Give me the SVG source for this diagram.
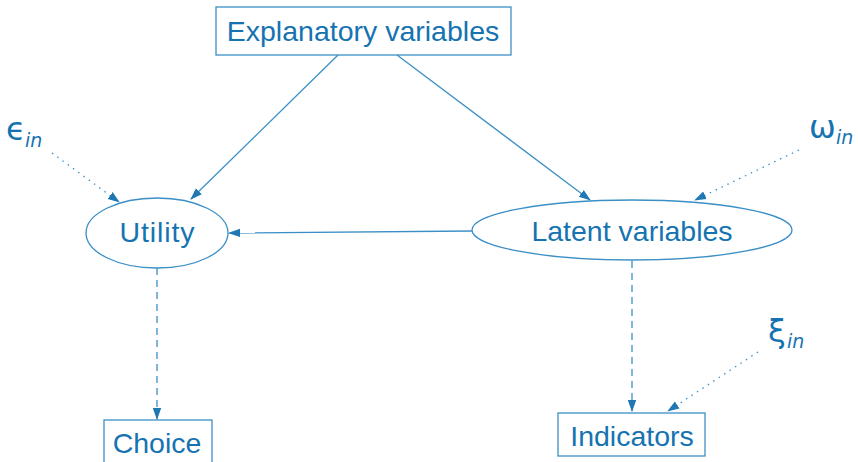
<svg xmlns="http://www.w3.org/2000/svg" width="858" height="462" viewBox="0 0 858 462">
  <defs>
    <marker id="tip" viewBox="0 0 12 10" refX="11" refY="5" markerWidth="12" markerHeight="10" markerUnits="userSpaceOnUse" orient="auto">
      <path d="M0,0.8 L12,5 L0,9.2 z" fill="#1f78b4"/>
    </marker>
    <style>
      .box { fill: none; stroke: #3b8fc6; stroke-width: 1.3; }
      .lbl { font-family: "Liberation Sans", Arial, sans-serif; font-size: 28.5px; fill: #1673b1; text-anchor: middle; }
      .grk { font-family: "DejaVu Sans", sans-serif; font-size: 32px; fill: #1673b1; }
      .sub { font-family: "DejaVu Sans", sans-serif; font-size: 19px; font-style: italic; fill: #1673b1; }
      .edge { fill: none; stroke: #3b8fc6; stroke-width: 1.3; marker-end: url(#tip); }
      .dash { stroke-dasharray: 7 5; }
      .dot { stroke-dasharray: 1.5 5; }
    </style>
  </defs>

  <g id="explanatory">
    <rect class="box" x="216" y="7" width="295" height="48"/>
    <text class="lbl" x="363" y="41">Explanatory variables</text>
  </g>

  <g id="utility">
    <ellipse class="box" cx="157" cy="233" rx="71" ry="35"/>
    <text class="lbl" x="157" y="242" textLength="75" lengthAdjust="spacing">Utility</text>
  </g>

  <g id="latent">
    <ellipse class="box" cx="632" cy="230" rx="160" ry="30"/>
    <text class="lbl" x="632" y="241">Latent variables</text>
  </g>

  <g id="choice">
    <rect class="box" x="104" y="420" width="108" height="50"/>
    <text class="lbl" x="157" y="453">Choice</text>
  </g>

  <g id="indicators">
    <rect class="box" x="558" y="413" width="147" height="43"/>
    <text class="lbl" x="632" y="446">Indicators</text>
  </g>

  <g id="epsilon">
    <text class="grk" x="6" y="140">ϵ</text>
    <text class="sub" x="25" y="147">in</text>
  </g>

  <g id="omega">
    <text class="grk" x="809" y="138">ω</text>
    <text class="sub" x="836" y="144">in</text>
  </g>

  <g id="xi">
    <text class="grk" x="768" y="342">ξ</text>
    <text class="sub" x="787" y="348">in</text>
  </g>

  <g id="connectors">
    <line class="edge" x1="338" y1="55" x2="191" y2="199"/>
    <line class="edge" x1="397" y1="55" x2="590" y2="200"/>
    <line class="edge" x1="472" y1="231" x2="229" y2="233"/>
    <line class="edge dash" x1="157" y1="268" x2="157" y2="419"/>
    <line class="edge dash" x1="632" y1="261" x2="632" y2="411"/>
    <line class="edge dot" x1="52" y1="153" x2="119" y2="202"/>
    <line class="edge dot" x1="799" y1="150" x2="695" y2="200"/>
    <line class="edge dot" x1="758" y1="352" x2="668" y2="411"/>
  </g>
</svg>
